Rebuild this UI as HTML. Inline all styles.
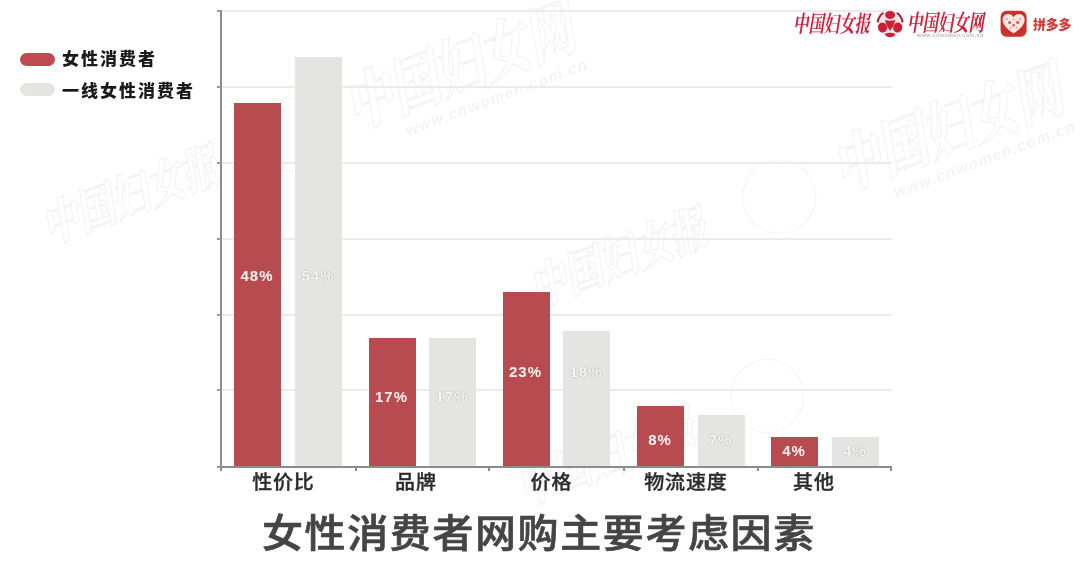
<!DOCTYPE html>
<html lang="zh-CN">
<head>
<meta charset="utf-8">
<title>女性消费者网购主要考虑因素</title>
<style>
html,body{margin:0;padding:0;background:#fff;}
body{width:1080px;height:563px;position:relative;overflow:hidden;
  font-family:"Liberation Sans","Noto Sans CJK SC",sans-serif;}
#chart{position:absolute;left:0;top:0;width:1080px;height:563px;overflow:hidden;background:#fff;filter:blur(.65px);}
.abs{position:absolute;}
.grid{position:absolute;left:221px;width:671px;height:2px;background:#ebebea;}
.ytick{position:absolute;left:217px;width:4px;height:2px;background:#999;}
.xtick{position:absolute;top:467px;width:2px;height:4px;background:#8c8c8c;}
.bar{position:absolute;width:47px;}
.red{background:#b84b4f;}
.gray{background:#e4e5e2;}
.val{position:absolute;width:47px;text-align:center;font-family:"Liberation Sans",sans-serif;
  font-weight:bold;font-size:15px;line-height:15px;letter-spacing:1px;color:#fff3f3;white-space:nowrap;margin-left:-.5px;}
.val.g{color:#f6f6f5;text-shadow:0 0 1px #a9a9a5,0 0 1.5px #b8b8b4;}
.cat{position:absolute;top:470.2px;height:24px;line-height:24px;font-size:20px;font-weight:500;color:#2b2b2b;-webkit-text-stroke:.35px #2b2b2b;letter-spacing:.8px;padding-left:.8px;
  white-space:nowrap;transform:translateX(-50%) scaleY(.97);transform-origin:50% 100%;font-family:"Liberation Sans","Noto Sans CJK SC",sans-serif;}
.leg{position:absolute;left:62px;font-size:17px;line-height:20px;font-weight:900;color:#1a1a1a;
  letter-spacing:2px;white-space:nowrap;font-family:"Liberation Sans","Noto Sans CJK SC",sans-serif;}
.pill{position:absolute;left:20px;width:34.5px;height:13px;border-radius:7px;}
#title{position:absolute;left:262px;top:504px;height:60px;line-height:60px;font-size:41px;font-weight:500;-webkit-text-stroke:.7px #454545;
  color:#454545;letter-spacing:1.6px;white-space:nowrap;transform:scaleY(.95);transform-origin:0 50%;font-family:"Liberation Sans","Noto Sans CJK SC",sans-serif;}
.wm{position:absolute;white-space:nowrap;height:70px;width:600px;transform-origin:0 50%;transform:rotate(-20.5deg);opacity:.045;}
.wm span{position:absolute;top:0;height:70px;line-height:70px;font-weight:900;font-style:italic;color:transparent;
  -webkit-text-stroke:1.2px #000;font-family:"Liberation Serif","Noto Serif CJK SC",serif;transform-origin:0 50%;transform:scaleY(1.3);}
.wm .a{left:4px;font-size:37px;}
.wm .b{left:330px;font-size:48px;top:-6px;}
.wm i{position:absolute;left:232px;top:-4px;width:74px;height:74px;border:1.2px solid #000;border-radius:50%;box-sizing:border-box;}
.wm small{position:absolute;left:378px;top:62px;font-size:15.5px;line-height:16px;font-style:italic;font-weight:700;letter-spacing:1.3px;color:#000;
  font-family:"Liberation Sans",sans-serif;}
.calli{position:absolute;height:24px;line-height:24px;font-size:15.4px;font-weight:700;font-style:italic;color:#d3223f;white-space:nowrap;
  letter-spacing:0;font-family:"Liberation Serif","Noto Serif CJK SC",serif;transform-origin:0 0;transform:scaleY(1.5);}
</style>
</head>
<body>
<div id="chart">

<!-- watermarks -->
<div class="wm" style="left:40px;top:196px;"><span class="a">中国妇女报</span><i></i><span class="b">中国妇女网</span><small>www.cnwomen.com.cn</small></div>
<div class="wm" style="left:528px;top:258px;"><span class="a">中国妇女报</span><i></i><span class="b">中国妇女网</span><small>www.cnwomen.com.cn</small></div>
<div class="wm" style="left:516px;top:457px;"><span class="a">中国妇女报</span><i></i></div>

<!-- grid -->
<div class="grid" style="top:10px"></div>
<div class="grid" style="top:86px"></div>
<div class="grid" style="top:162px"></div>
<div class="grid" style="top:238px"></div>
<div class="grid" style="top:314px"></div>
<div class="grid" style="top:389px"></div>

<!-- bars -->
<div class="bar red"  style="left:234px;top:103px;height:364px"></div>
<div class="bar gray" style="left:295px;top:57px;height:410px"></div>
<div class="bar red"  style="left:368.5px;top:338px;height:129px"></div>
<div class="bar gray" style="left:429px;top:338px;height:129px"></div>
<div class="bar red"  style="left:502.5px;top:292px;height:175px"></div>
<div class="bar gray" style="left:563px;top:331px;height:136px"></div>
<div class="bar red"  style="left:637px;top:406px;height:61px"></div>
<div class="bar gray" style="left:697.5px;top:414.5px;height:52px"></div>
<div class="bar red"  style="left:771px;top:437px;height:30px"></div>
<div class="bar gray" style="left:832px;top:437px;height:30px"></div>

<!-- axes -->
<div class="abs" style="left:220px;top:9.5px;width:2px;height:458.5px;background:#8c8c8c"></div>
<div class="abs" style="left:220px;top:466px;width:672px;height:2px;background:#8c8c8c"></div>
<div class="ytick" style="top:10px"></div>
<div class="ytick" style="top:86px"></div>
<div class="ytick" style="top:162px"></div>
<div class="ytick" style="top:238px"></div>
<div class="ytick" style="top:314px"></div>
<div class="ytick" style="top:389px"></div>
<div class="ytick" style="top:466px"></div>
<div class="xtick" style="left:220px"></div>
<div class="xtick" style="left:355px"></div>
<div class="xtick" style="left:488px"></div>
<div class="xtick" style="left:623px"></div>
<div class="xtick" style="left:757px"></div>
<div class="xtick" style="left:890px"></div>

<!-- value labels -->
<div class="val"   style="left:234px;top:268px">48%</div>
<div class="val g" style="left:295px;top:268px">54%</div>
<div class="val"   style="left:368.5px;top:389px">17%</div>
<div class="val g" style="left:429px;top:389px">17%</div>
<div class="val"   style="left:502.5px;top:364px">23%</div>
<div class="val g" style="left:563px;top:364px">18%</div>
<div class="val"   style="left:637px;top:432px">8%</div>
<div class="val g" style="left:697.5px;top:432px">7%</div>
<div class="val"   style="left:771px;top:443px">4%</div>
<div class="val g" style="left:832px;top:443px">4%</div>

<!-- category labels -->
<div class="cat" style="left:283px">性价比</div>
<div class="cat" style="left:415.5px">品牌</div>
<div class="cat" style="left:551px">价格</div>
<div class="cat" style="left:685.5px">物流速度</div>
<div class="cat" style="left:813.5px">其他</div>

<!-- legend -->
<div class="pill" style="top:53px;background:#be4b50"></div>
<div class="leg" style="top:49.5px">女性消费者</div>
<div class="pill" style="top:83px;background:#e4e5e2"></div>
<div class="leg" style="top:82px">一线女性消费者</div>

<!-- title -->
<div id="title">女性消费者网购主要考虑因素</div>

<!-- LOGOS -->
<div class="calli" style="left:793px;top:5.5px;width:77px;">中国妇女报</div>
<svg class="abs" style="left:876px;top:10px" width="28" height="28" viewBox="0 0 28 28">
  <circle cx="14.1" cy="13.9" r="12.6" fill="#fbe4e6"/>
  <g fill="#cc1f36">
    <ellipse cx="14.1" cy="4.9" rx="5" ry="4"/>
    <path d="M8.8 10 Q14.1 11.4 19.4 10 Q17.8 16.6 14.1 20.8 Q10.4 16.6 8.8 10 Z"/>
    <ellipse cx="6.5" cy="17.5" rx="4.5" ry="5.1" transform="rotate(-18 6.5 17.5)"/>
    <ellipse cx="21.7" cy="17.5" rx="4.5" ry="5.1" transform="rotate(18 21.7 17.5)"/>
    <path d="M8.6 24 Q14.1 21.6 19.6 24 Q17.6 27.2 14.1 27.2 Q10.6 27.2 8.6 24 Z"/>
  </g>
  <g fill="none" stroke="#b01b3c" stroke-width="2" stroke-linecap="round">
    <path d="M1.7 11.6 Q2.6 6.4 6.8 3.2"/>
    <path d="M26.5 11.6 Q25.6 6.4 21.4 3.2"/>
  </g>
</svg>
<div class="calli" style="left:907px;top:4.5px;width:79px;">中国妇女网</div>
<div class="abs" style="left:917px;top:31.5px;width:64px;font-size:5.5px;line-height:6px;color:#b9b9bd;letter-spacing:.35px;white-space:nowrap;font-family:'Liberation Sans',sans-serif;font-weight:bold;">www.cnwomen.com.cn</div>
<svg class="abs" style="left:1000px;top:10px" width="28" height="28" viewBox="0 0 28 28">
  <rect x="0.6" y="0.8" width="26" height="26" rx="6" ry="6" fill="#cb302c"/>
  <path d="M13.6 23.6 C8 19.6 2.6 15.4 2.6 9.8 C2.6 6.2 5.2 4 8 4 C10.4 4 12.4 5.2 13.6 7.2 C14.8 5.2 16.8 4 19.2 4 C22 4 24.6 6.2 24.6 9.8 C24.6 15.4 19.2 19.6 13.6 23.6 Z" fill="#fde6e3"/>
  <g fill="#d9524f">
    <circle cx="9.6" cy="12.6" r="1.5"/><circle cx="17.6" cy="12.6" r="1.5"/>
    <circle cx="13.6" cy="15.2" r="1.2"/>
    <circle cx="7" cy="9" r=".9" opacity=".6"/><circle cx="20.2" cy="9" r=".9" opacity=".6"/>
    <circle cx="10.6" cy="17.6" r=".9" opacity=".6"/><circle cx="16.6" cy="17.6" r=".9" opacity=".6"/>
    <circle cx="13.6" cy="9.6" r=".9" opacity=".5"/>
  </g>
</svg>
<div class="abs" style="left:1033px;top:14.5px;width:42px;font-size:13px;line-height:19px;font-weight:900;color:#d33c3a;white-space:nowrap;letter-spacing:-.2px;font-family:'Liberation Sans','Noto Sans CJK SC',sans-serif;">拼多多</div>

</div>
</body>
</html>
